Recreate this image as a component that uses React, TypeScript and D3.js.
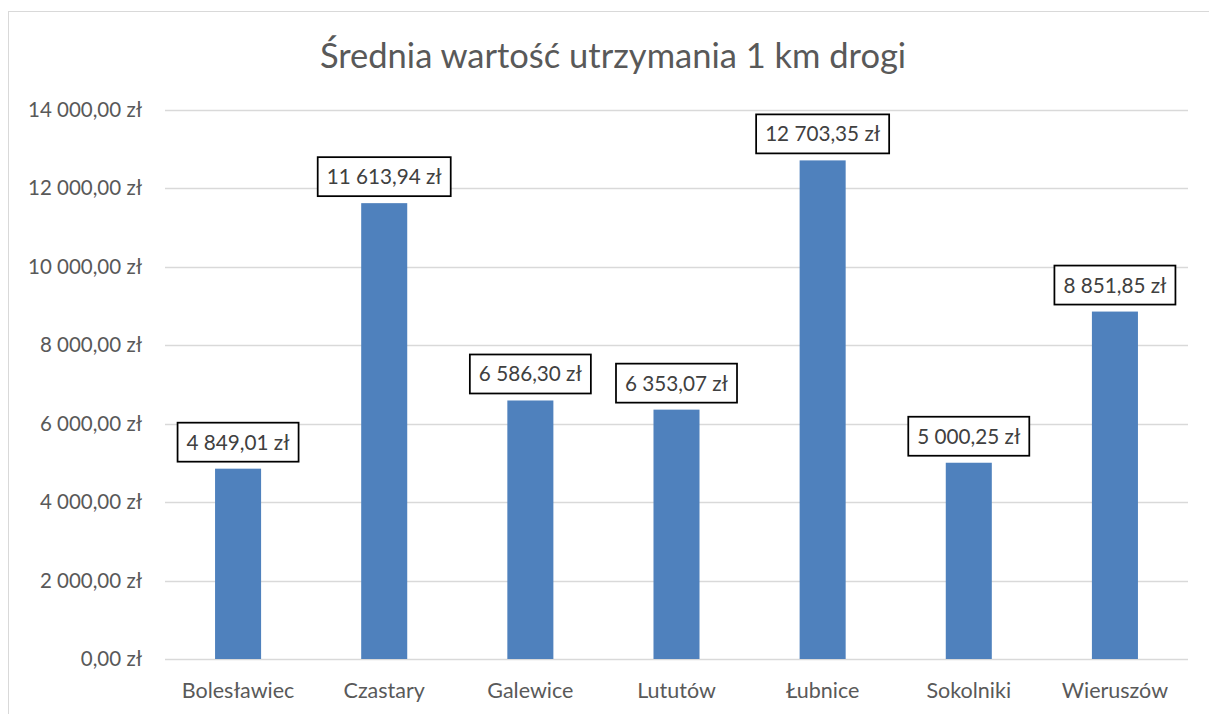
import React, { useEffect, useRef } from 'react'
import * as d3 from 'd3'

const categories = ['Bolesławiec', 'Czastary', 'Galewice', 'Lututów', 'Łubnice', 'Sokolniki', 'Wieruszów']
const values = [4849.01, 11613.94, 6586.3, 6353.07, 12703.35, 5000.25, 8851.85]
const yTicks = [0, 2000, 4000, 6000, 8000, 10000, 12000, 14000]
const title = 'Średnia wartość utrzymania 1 km drogi'

const FONT = 'Lato, "Open Sans", sans-serif'

function formatPln(v: number) {
  const [int, dec] = v.toFixed(2).split('.')
  const grouped = int.replace(/\B(?=(\d{3})+(?!\d))/g, ' ')
  return `${grouped},${dec} zł`
}

export default function App() {
  const svgRef = useRef<SVGSVGElement>(null)

  useEffect(() => {
    const width = 1209
    const height = 714
    const margin = { top: 110, right: 21, bottom: 55, left: 165 }

    const svg = d3.select(svgRef.current)
    svg.selectAll('*').remove()

    // outer chart frame (only top/left visible)
    svg.append('rect')
      .attr('x', 8.5).attr('y', 11.5)
      .attr('width', width + 20).attr('height', height + 20)
      .attr('fill', 'white').attr('stroke', '#d9d9d9')

    const x = d3.scaleBand()
      .domain(categories)
      .range([margin.left, width - margin.right])
      .paddingInner(0.685)
      .paddingOuter(0.3425)

    const y = d3.scaleLinear()
      .domain([0, 14000])
      .range([height - margin.bottom, margin.top - 0.5])

    svg.append('text')
      .attr('x', 613)
      .attr('y', 68)
      .attr('text-anchor', 'middle')
      .attr('font-family', FONT)
      .attr('font-size', 34.5)
      .attr('fill', '#595959')
      .text(title)

    const grid = svg.append('g')
    grid.selectAll('line')
      .data(yTicks)
      .join('line')
      .attr('x1', margin.left)
      .attr('x2', width - margin.right)
      .attr('y1', (d) => Math.round(y(d)) + 0.5)
      .attr('y2', (d) => Math.round(y(d)) + 0.5)
      .attr('stroke', '#d9d9d9')
      .attr('stroke-width', 1.5)

    grid.selectAll('text')
      .data(yTicks)
      .join('text')
      .attr('x', 142)
      .attr('y', (d) => y(d) + 7)
      .attr('text-anchor', 'end')
      .attr('font-family', FONT)
      .attr('font-size', 20.5)
      .attr('fill', '#595959')
      .text((d) => formatPln(d))

    svg.append('g')
      .selectAll('rect')
      .data(values)
      .join('rect')
      .attr('x', (_, i) => x(categories[i])!)
      .attr('width', x.bandwidth())
      .attr('y', (d) => y(d))
      .attr('height', (d) => y(0) - y(d))
      .attr('fill', '#4f81bd')

    svg.append('g')
      .selectAll('text')
      .data(categories)
      .join('text')
      .attr('x', (d) => x(d)! + x.bandwidth() / 2)
      .attr('y', 698)
      .attr('text-anchor', 'middle')
      .attr('font-family', FONT)
      .attr('font-size', 21.5)
      .attr('fill', '#595959')
      .text((d) => d)

    // data labels in boxes
    const labels = svg.append('g')
    values.forEach((v, i) => {
      const cx = x(categories[i])! + x.bandwidth() / 2
      const boxBottom = y(v) - 7
      const boxH = 39
      const g = labels.append('g')
      const rect = g.append('rect')
      const t = g.append('text')
        .attr('x', cx)
        .attr('y', boxBottom - boxH / 2 + 7.5)
        .attr('text-anchor', 'middle')
        .attr('font-family', FONT)
        .attr('font-size', 20.7)
        .attr('fill', '#404040')
        .text(formatPln(v))
      const tw = (t.node() as SVGTextElement).getComputedTextLength()
      const boxW = tw + 18
      rect
        .attr('x', cx - boxW / 2)
        .attr('y', boxBottom - boxH)
        .attr('width', boxW)
        .attr('height', boxH)
        .attr('fill', 'white')
        .attr('stroke', '#000')
        .attr('stroke-width', 1.75)
    })
  }, [])

  return (
    <svg
      ref={svgRef}
      width={1209}
      height={714}
      style={{ position: 'absolute', left: 0, top: 0, background: 'white' }}
    />
  )
}
